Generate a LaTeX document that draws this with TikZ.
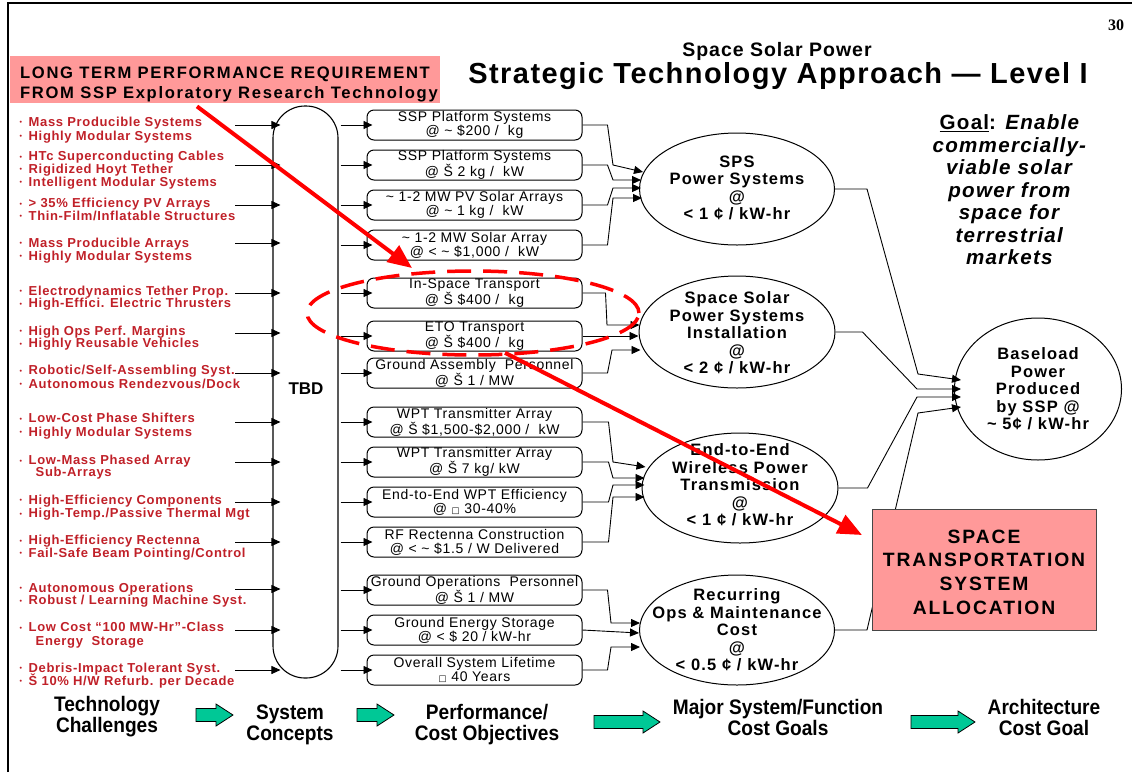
\documentclass[tikz,border=0pt]{standalone}
\usepackage{fontspec}
\setmainfont{Liberation Sans}
\newfontfamily\titlefont[LetterSpace=5]{Liberation Sans}
\newfontfamily\reqfont[LetterSpace=10]{Liberation Sans}
\newfontfamily\redfont[LetterSpace=5]{Liberation Sans}
\newfontfamily\boxfont[LetterSpace=5]{Liberation Sans}
\newfontfamily\ellfont[LetterSpace=7]{Liberation Sans}
\newfontfamily\goalfont[LetterSpace=6]{Liberation Sans}
\newfontfamily\narrowfont[FakeStretch=0.91]{Liberation Sans}
\newfontfamily\numfont{Liberation Serif}
\newfontfamily\symfont{DejaVu Sans}
\usetikzlibrary{arrows.meta,shapes.geometric,calc}

\definecolor{reqpink}{RGB}{255,153,153}
\definecolor{techred}{RGB}{192,32,40}
\definecolor{stepgreen}{RGB}{0,200,150}

\newcommand\fsz[2]{\fontsize{#1}{#2}\selectfont}
\newcommand\bul{\makebox[9pt][l]{\raisebox{1.5pt}{\fsz{7}{7}•}}}
\newcommand\sq{{\symfont\fsz{8.5}{8.5}□}}
\newcommand\tl{\textasciitilde}
\newcommand\rt[3]{\node[redline] (#1) at (19.5,#2) {#3};}
% block arrow between stage captions: left x, centre y, length
\newcommand\blockarrow[3]{\draw[steparrow] (#1,{#2-6.5}) -- ({#1+#3-17},{#2-6.5}) -- ({#1+#3-17},{#2-11})
  -- ({#1+#3},#2) -- ({#1+#3-17},{#2+11}) -- ({#1+#3-17},{#2+6.5}) -- (#1,{#2+6.5}) -- cycle;}

\tikzset{
  redline/.style={anchor=base west, inner sep=0, text=techred, font=\redfont\bfseries\fsz{13}{13}},
  objbox/.style={draw, line width=1pt, rounded corners=7pt, minimum width=215pt, minimum height=30pt, inner sep=0, align=center, font=\boxfont\fsz{14}{14.2}},
  goalell/.style={draw, ellipse, line width=1pt, inner sep=0},
  elltext/.style={align=center, inner sep=0, font=\ellfont\bfseries\fsz{16.5}{17.5}},
  feed/.style={line width=0.9pt, -{Triangle[length=9pt,width=8pt]}},
  stage/.style={align=center, inner sep=0, font=\narrowfont\bfseries\fsz{21}{21}},
  steparrow/.style={draw, fill=stepgreen, line width=0.8pt, line join=miter},
  redarrow/.style={draw=red, line width=4pt, -{Triangle[length=24pt,width=20pt]}},
}

\begin{document}
\begin{tikzpicture}[x=1pt,y=-1pt]
\useasboundingbox (0,0) rectangle (1132,772);
% page frame
\draw[line width=2.5pt] (8,772) -- (8,3) -- (1132,3);
\node[font=\numfont\bfseries\fsz{16}{16}] (pg) at (1116,25) {30};
% titles
\node[font=\titlefont\bfseries\fsz{19.5}{19.5}] (subt) at (777,51) {Space Solar Power};
\node[font=\titlefont\bfseries\fsz{29}{30}] (maint) at (778,76) {Strategic Technology Approach — Level I};
% requirement banner
\node[fill=reqpink, minimum width=430pt, minimum height=47pt, anchor=north west, inner sep=0] (req) at (10,56) {};
\node[anchor=west, align=left, inner sep=0, font=\reqfont\bfseries\fsz{16.6}{20}] (reqt) at (20,84)
  {LONG TERM PERFORMANCE REQUIREMENT\\FROM SSP Exploratory Research Technology};
% technology challenges
\rt{t1a}{126}{\bul Mass Producible Systems}
\rt{t1b}{140}{\bul Highly Modular Systems}
\rt{t2a}{160.5}{\bul HTc Superconducting Cables}
\rt{t2b}{173}{\bul Rigidized Hoyt Tether}
\rt{t2c}{186}{\bul Intelligent Modular Systems}
\rt{t3a}{207.5}{\bul > 35\% Efficiency PV Arrays}
\rt{t3b}{220}{\bul Thin-Film/Inflatable Structures}
\rt{t4a}{247}{\bul Mass Producible Arrays}
\rt{t4b}{260}{\bul Highly Modular Systems}
\rt{t5a}{295}{\bul Electrodynamics Tether Prop.}
\rt{t5b}{307.5}{\bul High-Effici. Electric Thrusters}
\rt{t6a}{335}{\bul High Ops Perf. Margins}
\rt{t6b}{347.5}{\bul Highly Reusable Vehicles}
\rt{t7a}{374.5}{\bul Robotic/Self-Assembling Syst.}
\rt{t7b}{388}{\bul Autonomous Rendezvous/Dock}
\rt{t8a}{422.5}{\bul Low-Cost Phase Shifters}
\rt{t8b}{436}{\bul Highly Modular Systems}
\rt{t9a}{464.5}{\bul Low-Mass Phased Array}
\rt{t9b}{476.5}{\hspace*{16pt}Sub-Arrays}
\rt{t10a}{504}{\bul High-Efficiency Components}
\rt{t10b}{517.5}{\bul High-Temp./Passive Thermal Mgt}
\rt{t11a}{544.5}{\bul High-Efficiency Rectenna}
\rt{t11b}{557}{\bul Fail-Safe Beam Pointing/Control}
\rt{t12a}{592}{\bul Autonomous Operations}
\rt{t12b}{604.5}{\bul Robust / Learning Machine Syst.}
\rt{t13a}{631.5}{\bul Low Cost “100 MW-Hr”-Class}
\rt{t13b}{645}{\hspace*{16pt}Energy\ \ Storage}
\rt{t14a}{672}{\bul Debris-Impact Tolerant Syst.}
\rt{t14b}{685}{\bul Š 10\% H/W Refurb. per Decade}
% system concepts capsule
\node[draw, line width=1.1pt, rounded corners=32pt, minimum width=65pt, minimum height=572pt, inner sep=0] (tbd) at (305.5,392) {};
\node[font=\bfseries\fsz{17}{17}] (tbdt) at (306,389) {TBD};
\foreach \i/\y in {1/125,2/165,3/205,4/243,5/293,6/333,7/373,8/422,9/462,10/502,11/542,12/589,13/630,14/670}{
  \coordinate (src\i) at (235,\y);
  \draw[feed] (src\i) -- ($(src\i -| tbd.west)+(8,0)$);
}
% performance / cost objectives
\node[objbox] (b1) at (474.5,125) {SSP Platform Systems\\@ \tl\ \$200 /\ \ kg};
\node[objbox] (b2) at (474.5,165) {SSP Platform Systems\\@ Š 2 kg /\ \ kW};
\node[objbox] (b3) at (474.5,205) {\tl\ 1-2 MW PV Solar Arrays\\@ \tl\ 1 kg /\ \ kW};
\node[objbox] (b4) at (474.5,245) {\tl\ 1-2 MW Solar Array\\@ < \tl\ \$1,000 /\ \ kW};
\node[objbox] (b5) at (474.5,293) {In-Space Transport\\@ Š \$400 /\ \ kg};
\node[objbox] (b6) at (474.5,336) {ETO Transport\\@ Š \$400 /\ \ kg};
\node[objbox] (b7) at (474.5,373) {Ground Assembly\ \ Personnel\\@ Š 1 / MW};
\node[objbox] (b8) at (474.5,422) {WPT Transmitter Array\\@ Š \$1,500-\$2,000 /\ \ kW};
\node[objbox] (b9) at (474.5,462) {WPT Transmitter Array\\@ Š 7 kg/ kW};
\node[objbox] (b10) at (474.5,502) {End-to-End WPT Efficiency\\@ \sq\ 30-40\%};
\node[objbox] (b11) at (474.5,542) {RF Rectenna Construction\\@ < \tl\ \$1.5 / W Delivered};
\node[objbox] (b12) at (474.5,590) {Ground Operations\ \ Personnel\\@ Š 1 / MW};
\node[objbox] (b13) at (474.5,630) {Ground Energy Storage\\@ < \$ 20 / kW-hr};
\node[objbox] (b14) at (474.5,670) {Overall System Lifetime\\\sq\ 40 Years};
\foreach \i in {1,...,14}{
  \draw[feed] ($(tbd.east |- b\i.west)+(2,0)$) -- ($(b\i.west)+(6,0)$);
}
% major system / function cost goals
\node[goalell, minimum width=195pt, minimum height=112pt] (e1) at (737,189) {};
\node[goalell, minimum width=196pt, minimum height=112pt] (e2) at (737,332) {};
\node[goalell, minimum width=196pt, minimum height=110pt] (e3) at (740,488) {};
\node[goalell, minimum width=195pt, minimum height=110pt] (e4) at (737,630) {};
\node[elltext] (e1t) at (737,188) {SPS\\Power Systems\\@\\< 1 ¢ / kW-hr};
\node[elltext] (e2t) at (737,333) {Space Solar\\Power Systems\\Installation\\@\\< 2 ¢ / kW-hr};
\node[elltext] (e3t) at (740,485) {End-to-End\\Wireless Power\\Transmission\\@\\< 1 ¢ / kW-hr};
\node[elltext] (e4t) at (737,630) {Recurring\\Ops \& Maintenance\\Cost\\@\\< 0.5 ¢ / kW-hr};
% objectives into goals
\draw[feed] (b1.east) -- ++(25,0) -- (613,165) -- ($(e1.west)+(4,-17)$);
\draw[feed] (b2.east) -- ++(25,0) -- (613,180) -- ($(e1.west)+(2,-9)$);
\draw[feed] (b3.east) -- ++(25,0) -- (613,188) -- ($(e1.west)+(2,-1)$);
\draw[feed] (b4.east) -- ++(25,0) -- (613,198) -- ($(e1.west)+(3,9)$);
\draw[feed] (b5.east) -- ++(23,0) -- (607,325) -- ($(e2.west)+(1,-7)$);
\draw[feed] (b6.east) -- (b6.east -| e2.west);
\draw[feed] (b7.east) -- ++(25,0) -- (612,350) -- ($(e2.west)+(2,18)$);
\draw[feed] (b8.east) -- ++(26,0) -- (613,462) -- ($(e3.west)+(4,-21)$);
\draw[feed] (b9.east) -- ++(26,0) -- (613,478) -- ($(e3.west)+(3,-10)$);
\draw[feed] (b10.east) -- ++(26,0) -- (613,485) -- ($(e3.west)+(3,-3)$);
\draw[feed] (b11.east) -- ++(26,0) -- (613,497) -- ($(e3.west)+(3,9)$);
\draw[feed] (b12.east) -- ++(25,0) -- (611,623) -- ($(e4.west)+(1,-7)$);
\draw[feed] (b13.east) -- ($(e4.west)+(0,3)$);
\draw[feed] (b14.east) -- ++(25,0) -- (611,647) -- ($(e4.west)+(1,17)$);
% architecture cost goal
\node[goalell, minimum width=167pt, minimum height=142pt] (e5) at (1038,389) {};
\node[elltext] (e5t) at (1038,389) {Baseload\\Power\\Produced\\by SSP @\\\tl\ 5¢ / kW-hr};
\draw[feed] (e1.east) -- ++(32,0) -- (918,374) -- ($(e5.west)+(7,-9)$);
\draw[feed] (e2.east) -- ++(27,0) -- (917,389) -- ($(e5.west)+(7,0)$);
\draw[feed] (e3.east) -- ++(29,0) -- (917,397) -- ($(e5.west)+(7,8)$);
\draw[feed] (e4.east) -- ++(32,0) -- (918,413) -- ($(e5.west)+(7,18)$);
% allocation box
\node[fill=reqpink, draw={rgb,255:red,70;green,70;blue,70}, line width=1pt, minimum width=224pt, minimum height=121pt, inner sep=0] (sts) at (984,569.5) {};
\node[align=center, inner sep=0, font=\reqfont\bfseries\fsz{19.3}{23.7}] (stst) at (984,572) {SPACE\\TRANSPORTATION\\SYSTEM\\ALLOCATION};
% goal statement
\node[align=center, inner sep=0, font=\goalfont\bfseries\fsz{20.6}{22.5}] (goal) at (1010,190)
  {\underline{Goal}: \textit{Enable}\\\textit{commercially-}\\\textit{viable solar}\\\textit{power from}\\\textit{space for}\\\textit{terrestrial}\\\textit{markets}};
% stage captions along the bottom
\node[stage] (s1) at (107,717) {Technology\\Challenges};
\node[stage] (s2) at (290,725) {System\\Concepts};
\node[stage] (s3) at (487,725) {Performance/\\Cost Objectives};
\node[stage] (s4) at (778,717) {Major System/Function\\Cost Goals};
\node[stage] (s5) at (1044,717) {Architecture\\Cost Goal};
\blockarrow{196}{715}{37}
\blockarrow{357}{715}{37}
\blockarrow{594}{722}{66}
\blockarrow{911}{722}{64}
% highlight and red pointers
\node[draw=red, ellipse, line width=3.5pt, dash pattern=on 24pt off 12pt, minimum width=332pt, minimum height=84pt, inner sep=0] (hl) at (473,313) {};
\coordinate (tip1) at (412,268);
\coordinate (tip2) at (862,535);
\draw[redarrow] ($(req.south west)+(187,3)$) -- (tip1);
\draw[redarrow] ($(hl.south)+(32,-4)$) -- (tip2);
\end{tikzpicture}
\end{document}
